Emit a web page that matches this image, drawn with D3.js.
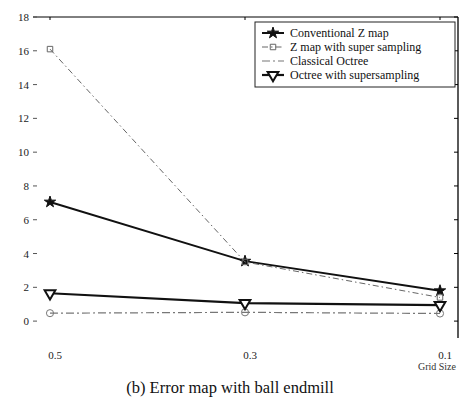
<!DOCTYPE html>
<html>
<head>
<meta charset="utf-8">
<script src="https://cdn.jsdelivr.net/npm/d3@7"></script>
<style>
  body { margin: 0; background: #fff; }
  svg { display: block; }
  svg text { font-family: "Liberation Serif", "Times New Roman", "DejaVu Serif", serif; }
</style>
</head>
<body>
<svg id="chart" width="460" height="403"></svg>
<script>
// grid sizes and error values
const gridSizes = [0.5, 0.3, 0.1];
const conventionalZ = [7.05, 3.55, 1.8];
const zmapSuper = [16.1, 3.5, 1.4];
const classicalOctree = [0.47, 0.52, 0.45];
const octreeSuper = [1.65, 1.07, 0.95];
const yTicks = [0, 2, 4, 6, 8, 10, 12, 14, 16, 18];
const xTickLabels = ['0.5', '0.3', '0.1'];
const seriesNames = ['Conventional Z map', 'Z map with super sampling', 'Classical Octree', 'Octree with supersampling'];

const svg = d3.select('#chart');
const plotL = 33, plotR = 458, plotT = 17, plotB = 338;

const x = d3.scaleLinear().domain([0.5, 0.1]).range([50, 440]);
const y = d3.scaleLinear().domain([-1, 18]).range([plotB, plotT]);

// frame: top and right edges show, left/bottom faded in the scan
svg.append('line').attr('x1', plotL).attr('x2', plotR).attr('y1', plotT).attr('y2', plotT)
    .attr('stroke', '#000').attr('stroke-width', 1);
svg.append('line').attr('x1', plotR).attr('x2', plotR).attr('y1', plotT).attr('y2', plotB)
    .attr('stroke', '#000').attr('stroke-width', 1.3);

// y ticks (left, inward) and labels
const yAxis = svg.append('g');
yTicks.forEach(t => {
    yAxis.append('line').attr('x1', plotL).attr('x2', plotL + 4)
        .attr('y1', y(t)).attr('y2', y(t)).attr('stroke', '#555').attr('stroke-width', 1);
    yAxis.append('line').attr('x1', plotR - 4).attr('x2', plotR)
        .attr('y1', y(t)).attr('y2', y(t)).attr('stroke', '#000').attr('stroke-width', 1);
    yAxis.append('text').attr('x', plotL - 4).attr('y', y(t) + 4)
        .attr('text-anchor', 'end').attr('font-size', 11).attr('fill', '#222').text(t);
});

// x tick labels
gridSizes.forEach((g, i) => {
    svg.append('text').attr('x', x(g) + 5).attr('y', 359)
        .attr('text-anchor', 'middle').attr('font-size', 11).attr('fill', '#222')
        .text(xTickLabels[i]);
    svg.append('line').attr('x1', x(g)).attr('x2', x(g)).attr('y1', plotT).attr('y2', plotT + 3)
        .attr('stroke', '#000');
});
svg.append('text').attr('x', 456).attr('y', 370).attr('text-anchor', 'end')
    .attr('font-size', 10).attr('fill', '#333').text('Grid Size');

svg.append('text').attr('x', 230).attr('y', 393).attr('text-anchor', 'middle')
    .attr('font-size', 16.5).attr('fill', '#111').text('(b) Error map with ball endmill');

const line = d3.line().x((d, i) => x(gridSizes[i])).y(d => y(d));

const styles = [
    {data: conventionalZ, stroke: '#111', width: 2, dash: null, symbol: d3.symbolStar, size: 40, fill: '#111', rot: 0},
    {data: zmapSuper, stroke: '#666', width: 1, dash: '6,3,1.5,3', symbol: d3.symbolSquare, size: 30, fill: 'none', rot: 0},
    {data: classicalOctree, stroke: '#777', width: 1.2, dash: '8,3,2,3', symbol: d3.symbolCircle, size: 40, fill: 'none', rot: 0},
    {data: octreeSuper, stroke: '#111', width: 2.2, dash: null, symbol: d3.symbolTriangle, size: 50, fill: '#fff', rot: 180}
];

styles.forEach(s => {
    svg.append('path').datum(s.data).attr('d', line)
        .attr('fill', 'none').attr('stroke', s.stroke).attr('stroke-width', s.width)
        .attr('stroke-dasharray', s.dash);
    svg.selectAll(null).data(s.data).enter().append('path')
        .attr('d', d3.symbol().type(s.symbol).size(s.size))
        .attr('transform', (d, i) => `translate(${x(gridSizes[i])},${y(d)}) rotate(${s.rot})`)
        .attr('fill', s.fill).attr('stroke', s.stroke).attr('stroke-width', s.symbol === d3.symbolTriangle ? 2 : 1);
});

// legend
const lg = svg.append('g');
lg.append('rect').attr('x', 255).attr('y', 22).attr('width', 200).attr('height', 65)
    .attr('fill', '#fff').attr('stroke', '#222').attr('stroke-width', 1);
styles.forEach((s, i) => {
    const ly = 33 + i * 14;
    lg.append('line').attr('x1', 262).attr('x2', 284).attr('y1', ly).attr('y2', ly)
        .attr('stroke', s.stroke).attr('stroke-width', s.width).attr('stroke-dasharray', s.dash);
    if (i !== 2) {
        lg.append('path').attr('d', d3.symbol().type(s.symbol).size(s.size))
            .attr('transform', `translate(273,${ly}) rotate(${s.rot})`)
            .attr('fill', s.fill).attr('stroke', s.stroke).attr('stroke-width', s.symbol === d3.symbolTriangle ? 2 : 1);
    }
    lg.append('text').attr('x', 290).attr('y', ly + 4).attr('font-size', 12).attr('fill', '#111')
        .text(seriesNames[i]);
});
</script>
</body>
</html>
